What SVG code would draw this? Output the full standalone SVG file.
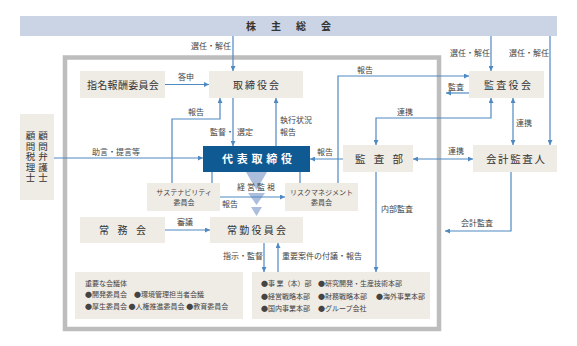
<svg xmlns="http://www.w3.org/2000/svg" width="577" height="346" viewBox="0 0 577 346">
<defs>
<style>
.bx{fill:#efebe5}
.nt{font-family:"Noto Sans CJK JP","Noto Sans",sans-serif;font-size:10px;fill:#333}
.lb{font-family:"Noto Sans CJK JP","Noto Sans",sans-serif;font-size:8px;fill:#444}
.sm{font-family:"Noto Sans CJK JP","Noto Sans",sans-serif;font-size:7px;fill:#444}
.vt{font-family:"Noto Sans CJK JP","Noto Sans",sans-serif;font-size:9.5px;fill:#333;writing-mode:vertical-rl;letter-spacing:1px}
.ln{fill:none;stroke:#4f89c2;stroke-width:1.2}
.tri{fill:#9fb3d6;opacity:0.85}
</style>
<marker id="ah" viewBox="0 0 6 6" refX="6" refY="3" markerWidth="5" markerHeight="5" markerUnits="userSpaceOnUse" orient="auto-start-reverse">
<path d="M0,0 L6,3 L0,6 Z" fill="#4f89c2"/>
</marker>
</defs>
<rect width="577" height="346" fill="#fff"/>

<g id="frame"><rect x="65" y="57.5" width="374" height="271.5" fill="none" stroke="#bdbdbd" stroke-width="4.5"/></g>

<g id="shareholders">
<rect x="20" y="16" width="537" height="20" fill="#cbd4e4"/>
<text class="nt" x="246" y="30" style="font-weight:bold;letter-spacing:15px">株主総会</text>
</g>

<g id="triangles">
<polygon class="tri" points="246,172 267,172 256.5,190"/>
<polygon class="tri" points="248,193 265,193 256.5,205"/>
<polygon class="tri" points="251,207 262,207 256.5,216"/>
</g>

<g id="connectors">
<path class="ln" d="M233,36 V71" marker-end="url(#ah)"/>
<path class="ln" d="M491,36 V71" marker-end="url(#ah)"/>
<path class="ln" d="M550,36 V145" marker-end="url(#ah)"/>
<path class="ln" d="M165,84.5 H209" marker-end="url(#ah)"/>
<path class="ln" d="M172,183 V119 H220 V98" marker-end="url(#ah)"/>
<path class="ln" d="M233,98 V146" marker-end="url(#ah)"/>
<path class="ln" d="M276,146 V98" marker-end="url(#ah)"/>
<path class="ln" d="M338,183 V76 H469" marker-end="url(#ah)"/>
<path class="ln" d="M469,93 H446" marker-end="url(#ah)"/>
<path class="ln" d="M491,98 V118 H376 V145" marker-start="url(#ah)" marker-end="url(#ah)"/>
<path class="ln" d="M513,98 V145" marker-start="url(#ah)" marker-end="url(#ah)"/>
<path class="ln" d="M343,159 H310" marker-end="url(#ah)"/>
<path class="ln" d="M413,159 H473" marker-start="url(#ah)" marker-end="url(#ah)"/>
<path class="ln" d="M54,158 H203" marker-end="url(#ah)"/>
<path class="ln" d="M376,172 V272" marker-end="url(#ah)"/>
<path class="ln" d="M511,172 V231 H445" marker-end="url(#ah)"/>
<path class="ln" d="M212,172 V183"/>
<path class="ln" d="M300,172 V183"/>
<path class="ln" d="M220,197 H285" marker-end="url(#ah)"/>
<path class="ln" d="M165,230 H210" marker-end="url(#ah)"/>
<path class="ln" d="M264,243 V272" marker-end="url(#ah)"/>
<path class="ln" d="M278,272 V243" marker-end="url(#ah)"/>
</g>

<g id="labels">
<text class="lb" x="191" y="49">選任・解任</text>
<text class="lb" x="450" y="56">選任・解任</text>
<text class="lb" x="509" y="56">選任・解任</text>
<text class="lb" x="178" y="80">答申</text>
<text class="lb" x="188" y="115">報告</text>
<text class="lb" y="134.5"><tspan x="210">監督・</tspan><tspan x="237">選定</tspan></text>
<text class="lb"><tspan x="280" y="123">執行状況</tspan><tspan x="280" y="134.5">報告</tspan></text>
<text class="lb" x="357" y="73">報告</text>
<text class="lb" x="448" y="89.5">監査</text>
<text class="lb" x="397" y="115">連携</text>
<text class="lb" x="516" y="126">連携</text>
<text class="lb" x="317" y="155">報告</text>
<text class="lb" x="448" y="154">連携</text>
<text class="lb" x="92" y="155">助言・提言等</text>
<text class="lb" x="381" y="212">内部監査</text>
<text class="lb" x="461" y="226">会計監査</text>
<text class="lb" x="237" y="190" style="letter-spacing:2px">経営監視</text>
<text class="lb" x="222" y="207">報告</text>
<text class="lb" x="177" y="225">審議</text>
<text class="lb" x="223" y="259">指示・監督</text>
<text class="lb" x="282" y="259">重要案件の付議・報告</text>
</g>

<g id="nomination">
<rect class="bx" x="80" y="71" width="85" height="27"/>
<text class="nt" x="87" y="88.5" style="letter-spacing:0.3px">指名報酬委員会</text>
</g>
<g id="board">
<rect class="bx" x="209" y="71" width="94" height="27"/>
<text class="nt" x="233" y="88.5" style="letter-spacing:2px">取締役会</text>
</g>
<g id="auditboard">
<rect class="bx" x="469" y="71" width="75" height="27"/>
<text class="nt" x="484" y="88.5" style="letter-spacing:2.3px">監査役会</text>
</g>
<g id="advisors">
<rect class="bx" x="20" y="114" width="34" height="86"/>
<text class="vt" x="43" y="131">顧問弁護士</text>
<text class="vt" x="30.5" y="131">顧問税理士</text>
</g>
<g id="representative">
<rect x="203" y="146" width="107" height="26" fill="#0f5a93"/>
<text class="nt" x="222" y="163" style="font-size:11px;font-weight:bold;fill:#fff;letter-spacing:3.75px">代表取締役</text>
</g>
<g id="auditdept">
<rect class="bx" x="343" y="145" width="70" height="27"/>
<text class="nt" x="355" y="162.5" style="font-size:10.5px;letter-spacing:8.25px">監査部</text>
</g>
<g id="accountant">
<rect class="bx" x="473" y="145" width="84" height="27"/>
<text class="nt" x="486" y="162.5" style="font-size:10.5px;letter-spacing:1.6px">会計監査人</text>
</g>
<g id="sustainability">
<rect class="bx" x="147" y="183" width="73" height="28"/>
<text class="sm" x="184" y="194.5" text-anchor="middle">サステナビリティ</text>
<text class="sm" x="184" y="205" text-anchor="middle">委員会</text>
</g>
<g id="risk">
<rect class="bx" x="285" y="183" width="73" height="28"/>
<text class="sm" x="321.5" y="194.5" text-anchor="middle">リスクマネジメント</text>
<text class="sm" x="321.5" y="205" text-anchor="middle">委員会</text>
</g>
<g id="managing">
<rect class="bx" x="80" y="217" width="85" height="26"/>
<text class="nt" x="99" y="234" style="letter-spacing:8.5px">常務会</text>
</g>
<g id="fulltime">
<rect class="bx" x="210" y="217" width="93" height="26"/>
<text class="nt" x="227" y="234" style="letter-spacing:2.25px">常勤役員会</text>
</g>
<g id="meetings">
<rect class="bx" x="75" y="272" width="168" height="47"/>
<text class="sm" x="85" y="286">重要な会議体</text>
<text class="sm" x="85" y="297">●開発委員会　●環境管理担当者会議</text>
<text class="sm" x="85" y="309">●厚生委員会 ●人権推進委員会 ●教育委員会</text>
</g>
<g id="divisions">
<rect class="bx" x="252" y="272" width="178" height="47"/>
<text class="sm" y="286"><tspan x="261">●事 業（本）部</tspan><tspan x="318">●研究開発・生産技術本部</tspan></text>
<text class="sm" y="298.5"><tspan x="261">●経営戦略本部</tspan><tspan x="318">●財務戦略本部</tspan><tspan x="376">●海外事業本部</tspan></text>
<text class="sm" y="311"><tspan x="261">●国内事業本部</tspan><tspan x="318">●グループ会社</tspan></text>
</g>
</svg>
